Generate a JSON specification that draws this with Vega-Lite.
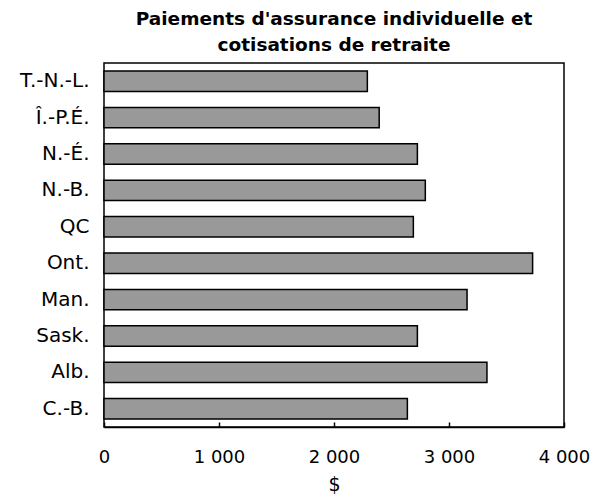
{
  "$schema": "https://vega.github.io/schema/vega-lite/v6.json",
  "autosize": {"type": "none"},
  "padding": {"left": 104, "top": 63, "right": 47, "bottom": 70},
  "width": 460,
  "height": 364,
  "background": "white",
  "title": {
    "text": ["Paiements d'assurance individuelle et", "cotisations de retraite"],
    "font": "DejaVu Sans",
    "fontSize": 18.5,
    "fontWeight": "bold",
    "color": "black",
    "anchor": "middle",
    "lineHeight": 26,
    "offset": 9
  },
  "data": {
    "values": [
      {"province": "T.-N.-L.", "montant": 2290},
      {"province": "Î.-P.É.", "montant": 2393},
      {"province": "N.-É.", "montant": 2725},
      {"province": "N.-B.", "montant": 2794},
      {"province": "QC", "montant": 2690},
      {"province": "Ont.", "montant": 3727},
      {"province": "Man.", "montant": 3157},
      {"province": "Sask.", "montant": 2725},
      {"province": "Alb.", "montant": 3330},
      {"province": "C.-B.", "montant": 2638}
    ]
  },
  "mark": {"type": "bar", "fill": "#999999", "stroke": "black", "strokeWidth": 1.5},
  "encoding": {
    "y": {
      "field": "province",
      "type": "nominal",
      "sort": null,
      "scale": {"paddingInner": 0.44, "paddingOuter": 0.22},
      "axis": {
        "title": null,
        "ticks": false,
        "domain": false,
        "labelFont": "DejaVu Sans",
        "labelFontSize": 20,
        "labelColor": "black",
        "labelPadding": 15
      }
    },
    "x": {
      "field": "montant",
      "type": "quantitative",
      "scale": {"domain": [0, 4000], "nice": false},
      "axis": {
        "title": "$",
        "values": [0, 1000, 2000, 3000, 4000],
        "labelExpr": "replace(format(datum.value, ',d'), ',', ' ')",
        "grid": false,
        "domain": true,
        "domainColor": "black",
        "domainWidth": 1.5,
        "ticks": true,
        "tickSize": -5,
        "tickColor": "black",
        "tickWidth": 1.5,
        "labelFont": "DejaVu Sans",
        "labelFontSize": 18,
        "labelColor": "black",
        "labelPadding": 26,
        "labelFlush": false,
        "titleFont": "DejaVu Sans",
        "titleFontSize": 19,
        "titleFontWeight": "normal",
        "titleColor": "black",
        "titlePadding": 9
      }
    }
  },
  "config": {
    "view": {"stroke": "black", "strokeWidth": 1.5}
  }
}
